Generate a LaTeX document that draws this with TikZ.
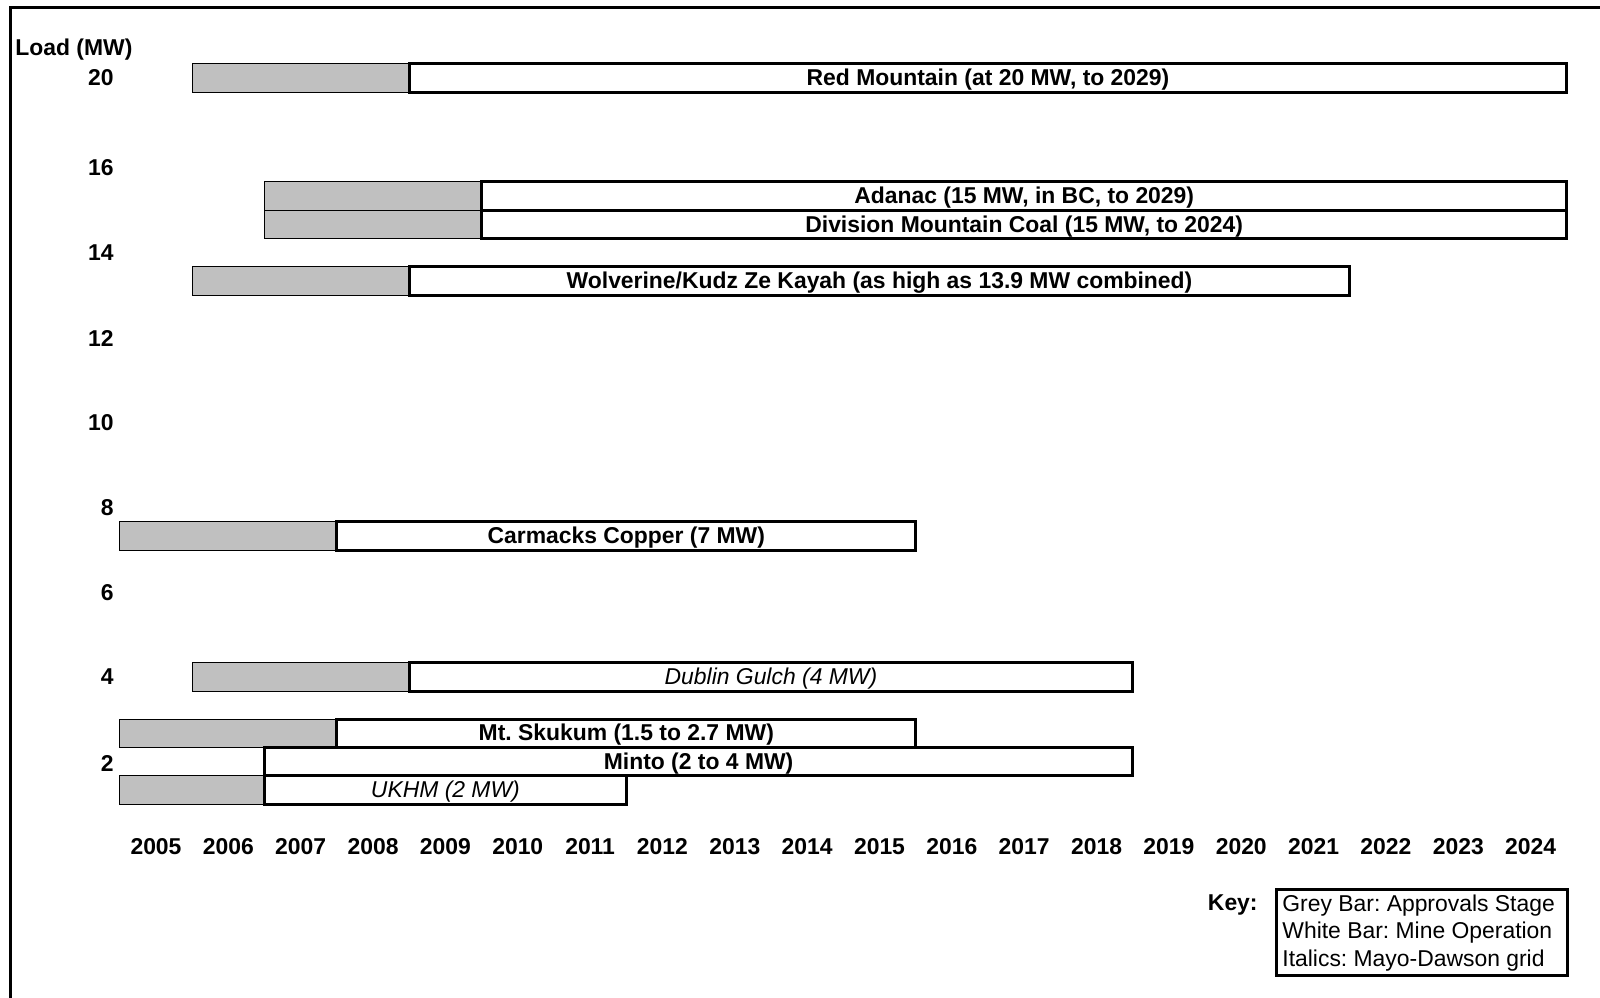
\documentclass[tikz,border=0pt]{standalone}
\usepackage{fontspec}
\setmainfont{Liberation Sans}
\usetikzlibrary{positioning}

\definecolor{approvgrey}{HTML}{C0C0C0}
\newcommand{\chartfont}{\fontsize{11.45}{13.9}\selectfont}
\tikzset{
 greybar/.style = {fill=approvgrey, draw=black, line width=0.5pt},
 whitebar/.style = {fill=white, draw=black, line width=1.5pt},
 barlbl/.style = {font=\chartfont\bfseries, inner sep=0pt, yshift=-0.8pt},
 gridlbl/.style = {font=\chartfont\itshape, inner sep=0pt, yshift=-0.8pt},
 axislbl/.style = {font=\chartfont\bfseries, inner sep=0pt}
}

\begin{document}
\frenchspacing
\begin{tikzpicture}[x = 0.5pt, y = -0.5pt]
 \useasboundingbox (0,0) rectangle (1600,997);
 \clip (0,0) rectangle (1600,997);
 \draw[line width=1.5pt] (10,7) rectangle (1640,1040);
 % vertical axis
 \node[axislbl, anchor=west] (load) at (15,49.5) {Load (MW)};
 \foreach \mw/\ypos in {20/78, 16/168, 14/253, 12/338, 10/422.5, 8/508, 6/593, 4/677, 2/763}
  \node[axislbl, anchor=east] (mw\mw) at (114,\ypos) {\mw};
 % years
 \foreach \yr [count=\i from 0] in {2005,...,2024}
  \node[axislbl] (yr\yr) at ({156+72.35*\i},847) {\yr};
 % Red Mountain
 \draw[greybar] (192.2,63.3) rectangle (409.2,92);
 \draw[whitebar] (409.2,63.3) rectangle (1566.8,92)
  node[midway, barlbl] (redmtn) {Red Mountain (at 20 MW, to 2029)};
 % Adanac and Division Mountain
 \draw[greybar] (264.5,181.7) rectangle (481.6,210.3);
 \draw[greybar] (264.5,210.3) rectangle (481.6,238.7);
 \draw[whitebar] (481.6,181.7) rectangle (1566.8,210.3)
  node[midway, barlbl] (adanac) {Adanac (15 MW, in BC, to 2029)};
 \draw[whitebar] (481.6,210.3) rectangle (1566.8,238.7)
  node[midway, barlbl] (divmtn) {Division Mountain Coal (15 MW, to 2024)};
 % Wolverine
 \draw[greybar] (192.2,266.7) rectangle (409.2,295.3);
 \draw[whitebar] (409.2,266.7) rectangle (1349.8,295.3)
  node[midway, barlbl] (wolv) {Wolverine/Kudz Ze Kayah (as high as 13.9 MW combined)};
 % Carmacks
 \draw[greybar] (119.8,521) rectangle (336.9,550.7);
 \draw[whitebar] (336.9,521) rectangle (915.7,550.7)
  node[midway, barlbl] (carm) {Carmacks Copper (7 MW)};
 % Dublin Gulch
 \draw[greybar] (192.2,662.7) rectangle (409.2,691.7);
 \draw[whitebar] (409.2,662.7) rectangle (1132.7,691.7)
  node[midway, gridlbl] (dublin) {Dublin Gulch (4 MW)};
 % Mt. Skukum, Minto, UKHM
 \draw[greybar] (119.8,719) rectangle (336.9,747.7);
 \draw[whitebar] (336.9,719) rectangle (915.7,747.7)
  node[midway, barlbl] (skukum) {Mt. Skukum (1.5 to 2.7 MW)};
 \draw[greybar] (119.8,775.7) rectangle (264.5,804.3);
 \draw[whitebar] (264.5,747.7) rectangle (1132.7,775.7)
  node[midway, barlbl] (minto) {Minto (2 to 4 MW)};
 \draw[whitebar] (264.5,775.7) rectangle (626.3,804.3)
  node[midway, gridlbl] (ukhm) {UKHM (2 MW)};
 % key
 \node[axislbl, anchor=east] (keyhd) at (1258,905) {Key:};
 \draw[line width=1.5pt] (1276,889) rectangle (1567,975);
 \node[anchor=west, align=left, inner sep=0pt, font=\chartfont] (keytxt) at (1282,933)
  {Grey Bar: Approvals Stage\\White Bar: Mine Operation\\Italics: Mayo-Dawson grid};
\end{tikzpicture}
\end{document}
